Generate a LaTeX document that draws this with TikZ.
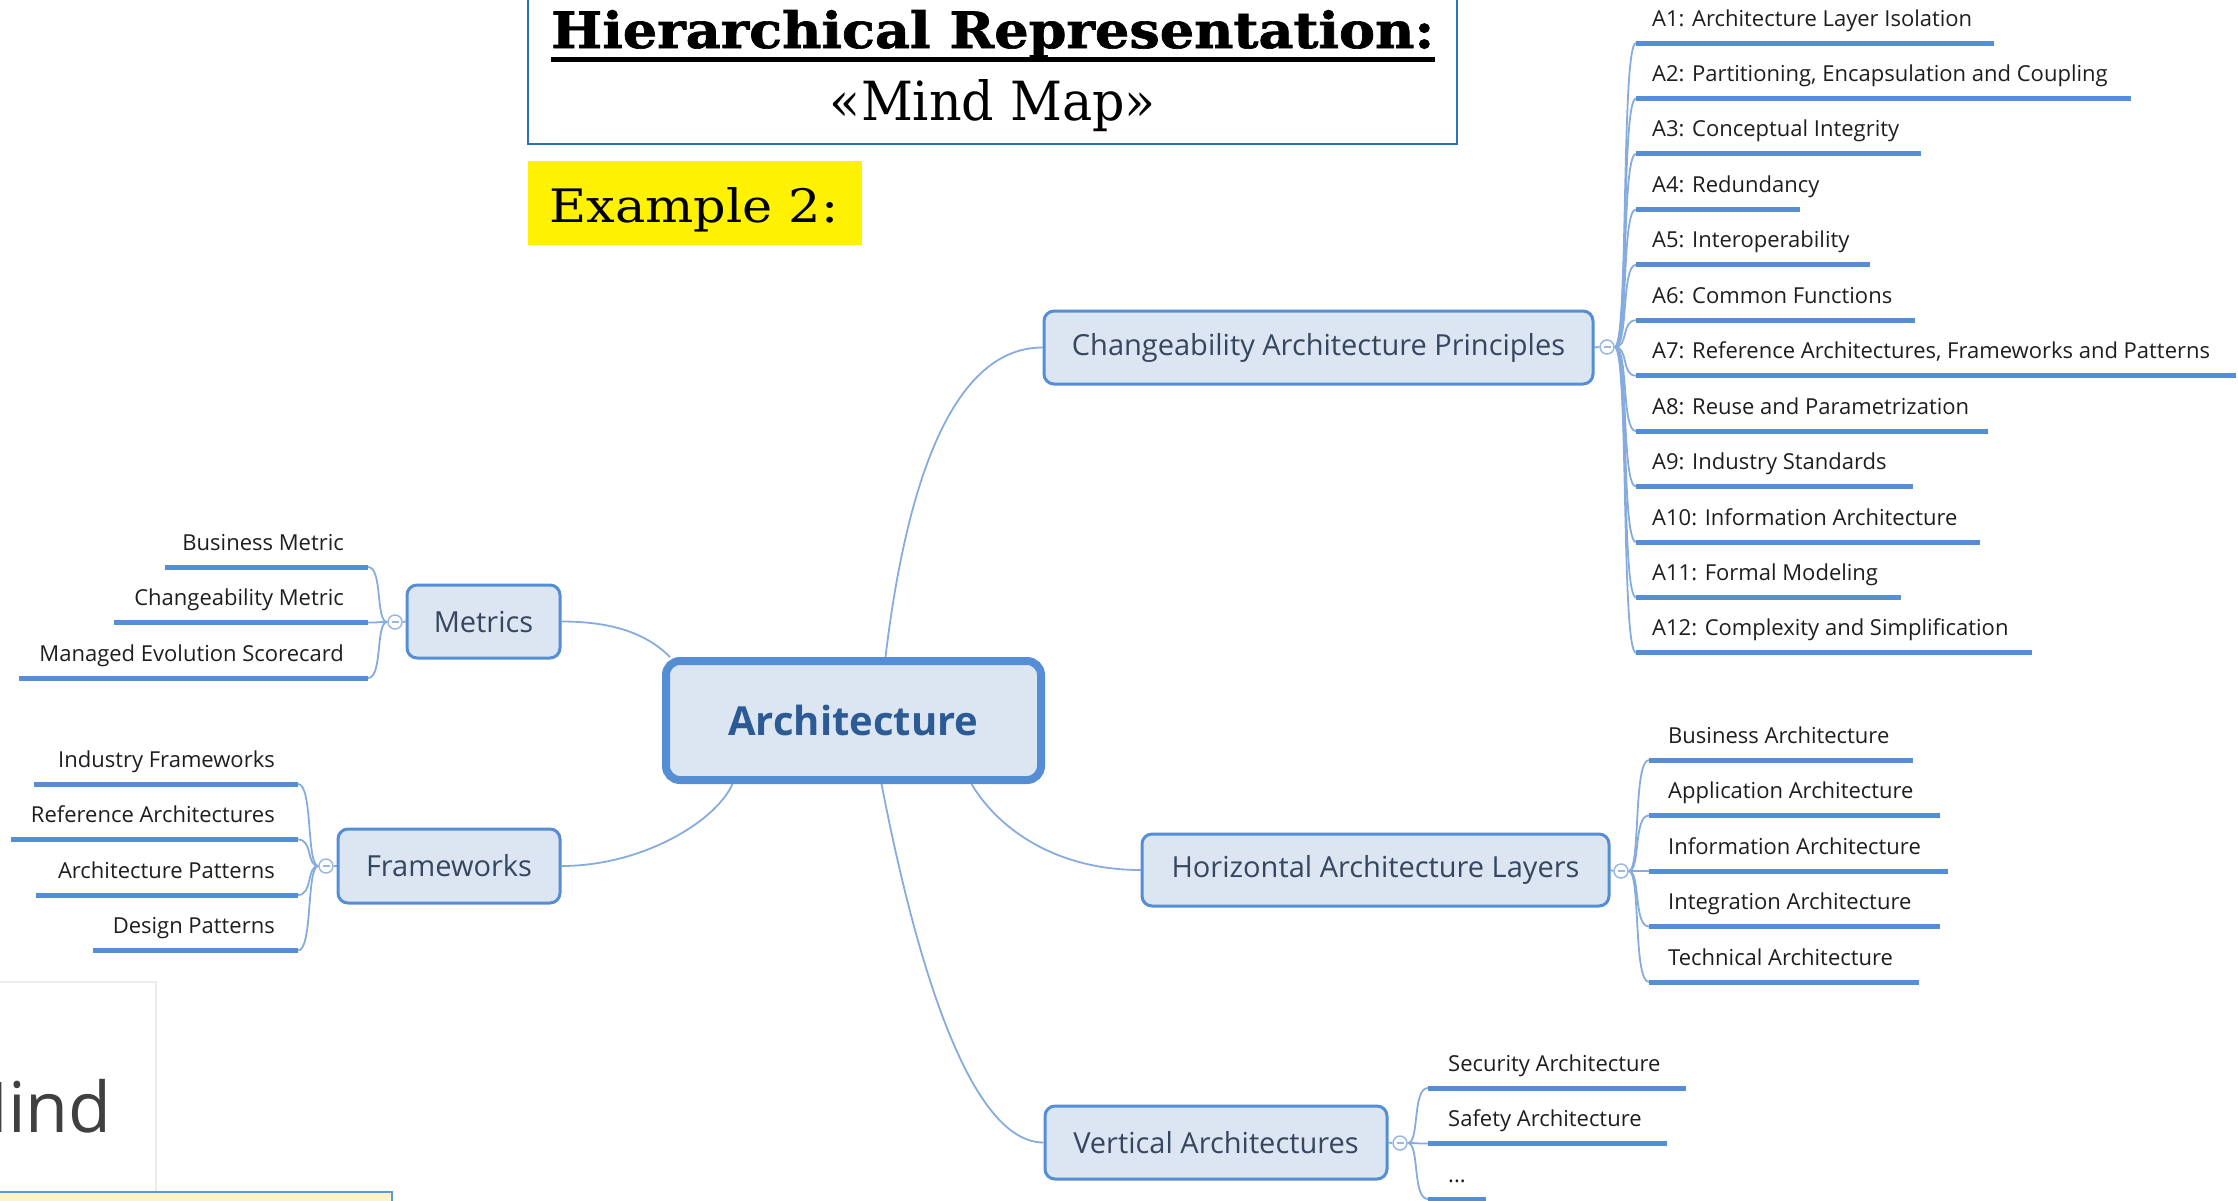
\documentclass[tikz,border=0pt]{standalone}
\usepackage{fontspec}
\setmainfont{Open Sans}
\newfontfamily\dserif[BoldFeatures={FakeBold=1.3}]{DejaVu Serif}
\usetikzlibrary{backgrounds}
\definecolor{nodefill}{HTML}{DCE6F2}
\definecolor{nodeline}{HTML}{558ED5}
\definecolor{linkc}{HTML}{86ACDF}
\definecolor{nodetext}{HTML}{35465E}
\definecolor{roottext}{HTML}{2C5A95}
\definecolor{leaftext}{HTML}{1E1E1E}
\definecolor{titleline}{HTML}{2F6FC0}
\definecolor{barfill}{HTML}{FFF2CC}
\definecolor{barline}{HTML}{5B9BD5}
\definecolor{panelline}{HTML}{ECECEC}
\definecolor{mindtext}{HTML}{404040}
\begin{document}
\begin{tikzpicture}[x=1pt,y=-1pt,
  topic/.style={draw=nodeline, line width=3pt, fill=nodefill, rounded corners=10pt,
    font=\fontsize{29}{34}\selectfont, text=nodetext, inner sep=0pt},
  root/.style={topic, line width=8pt, rounded corners=14pt,
    font=\bfseries\fontsize{40}{48}\selectfont, text=roottext},
  leaf/.style={font=\fontsize{22}{26}\selectfont, text=leaftext, inner sep=0pt},
  uline/.style={draw=nodeline, line width=5pt},
  link/.style={draw=linkc, line width=1.8pt},
  collapse/.style={circle, draw=linkc!85, line width=1.5pt, fill=white,
    minimum size=14pt, inner sep=0pt},
  minus/.style={draw=linkc!85, line width=1.3pt}]
\useasboundingbox (0,0) rectangle (2238,1200);
\clip (0,0) rectangle (2238,1200);

% ---------- title block ----------
\node[draw=titleline, line width=2pt, minimum width=929pt, minimum height=160pt,
  inner sep=0pt] (titlebox) at (992.5,64) {};
\node[anchor=base west, inner sep=0pt] (title) at (551,48)
  {\resizebox{883pt}{38pt}{\dserif\bfseries Hierarchical Representation:}};
\draw[line width=5pt] (title.base west) ++(0,11) -- ++(884,0);
\node[anchor=base, inner sep=0pt] (subtitle) at (993,120)
  {\resizebox{326pt}{41pt}{\dserif «Mind Map»}};

\node[fill=yellow, minimum width=334pt, minimum height=84pt, inner sep=0pt]
  (exbox) at (695,203) {};
\node[anchor=base west, inner sep=0pt] (example) at (549,222)
  {\resizebox{289pt}{35pt}{\dserif Example 2:}};

% ---------- partial slide panel at the lower left ----------
\node[draw=panelline, line width=1.5pt, fill=white, minimum width=164pt,
  minimum height=212pt, inner sep=0pt] (panel) at (74,1088) {};
\node[anchor=base east, inner sep=0pt, text=mindtext,
  font=\fontsize{70}{80}\selectfont] (mind) at (112,1132) {Mind};
\node[draw=barline, line width=2pt, fill=barfill, minimum width=403pt,
  minimum height=30pt, inner sep=0pt] (bar) at (190.5,1207) {};

% ---------- central topic and main topics ----------
\node[root, minimum width=375pt, minimum height=119pt] (root) at (853.5,720.5) {Architecture};
\node[topic, minimum width=549pt, minimum height=73pt] (cap) at (1318.5,347.5)
  {Changeability Architecture Principles};
\node[topic, minimum width=153pt, minimum height=73pt] (met) at (483.5,621.5) {Metrics};
\node[topic, minimum width=222pt, minimum height=74pt] (fw) at (449,866) {Frameworks};
\node[topic, minimum width=467pt, minimum height=72pt] (hor) at (1375.5,870)
  {Horizontal Architecture Layers};
\node[topic, minimum width=342pt, minimum height=73pt] (ver) at (1216,1142.5)
  {Vertical Architectures};

% collapse markers
\node[collapse] (capc) at (1607,347) {};
\node[collapse] (horc) at (1621,871) {};
\node[collapse] (verc) at (1400,1143) {};
\node[collapse] (metc) at (395,622) {};
\node[collapse] (fwc) at (326,866) {};
\foreach \c in {capc,horc,verc,metc,fwc}
  \draw[minus] ([xshift=-3.5pt]\c.center) -- ([xshift=3.5pt]\c.center);

\begin{pgfonlayer}{background}
  % main connectors
  \draw[link] ([xshift=32pt]root.north) .. controls +(19,-159) and +(-95,0) .. (cap.west);
  \draw[link] (met.east) .. controls +(50,0) and +(-24,-24) .. ([xshift=8pt]root.north west);
  \draw[link] ([xshift=-121pt]root.south) .. controls +(-17,38) and +(80,0) .. (fw.east);
  \draw[link] ([xshift=118pt]root.south) .. controls +(28,47) and +(-82,0) .. (hor.west);
  \draw[link] ([xshift=28pt]root.south) .. controls +(23,118) and +(-85,0) .. (ver.west);
  % short stubs to the collapse markers
  \draw[link] (cap.east) -- (capc.west);
  \draw[link] (hor.east) -- (horc.west);
  \draw[link] (ver.east) -- (verc.west);
  \draw[link] (met.west) -- (metc.east);
  \draw[link] (fw.west) -- (fwc.east);
\end{pgfonlayer}

% ---------- principles A1..A12 ----------
\foreach \i/\ex/\txt in {
  1/1994/{A1: Architecture Layer Isolation},
  2/2131/{A2: Partitioning, Encapsulation and Coupling},
  3/1921/{A3: Conceptual Integrity},
  4/1800/{A4: Redundancy},
  5/1870/{A5: Interoperability},
  6/1915/{A6: Common Functions},
  7/2236/{A7: Reference Architectures, Frameworks and Patterns},
  8/1988/{A8: Reuse and Parametrization},
  9/1913/{A9: Industry Standards},
  10/1980/{A10: Information Architecture},
  11/1901/{A11: Formal Modeling},
  12/2032/{A12: Complexity and Simplification}}{
  \pgfmathsetmacro\yy{43+(\i-1)*55.45}
  \coordinate (pa\i) at (1636,\yy);
  \node[leaf, anchor=base west] (ta\i) at (1652,\yy-17) {\txt};
  \draw[uline] (pa\i) -- (\ex,\yy);
  \begin{pgfonlayer}{background}
    \draw[link] (capc.east) .. controls +(14,0) and +(-15,0) .. (pa\i);
  \end{pgfonlayer}
}

% ---------- horizontal layers ----------
\foreach \i/\ex/\txt in {
  1/1913/{Business Architecture},
  2/1940/{Application Architecture},
  3/1948/{Information Architecture},
  4/1940/{Integration Architecture},
  5/1919/{Technical Architecture}}{
  \pgfmathsetmacro\yy{760+(\i-1)*55.5}
  \coordinate (ph\i) at (1649,\yy);
  \node[leaf, anchor=base west] (th\i) at (1668,\yy-17) {\txt};
  \draw[uline] (ph\i) -- (\ex,\yy);
  \begin{pgfonlayer}{background}
    \draw[link] (horc.east) .. controls +(12,0) and +(-16,0) .. (ph\i);
  \end{pgfonlayer}
}

% ---------- vertical architectures ----------
\foreach \i/\ex/\txt in {
  1/1686/{Security Architecture},
  2/1667/{Safety Architecture},
  3/1486/{...}}{
  \pgfmathsetmacro\yy{1088+(\i-1)*55.5}
  \coordinate (pv\i) at (1428,\yy);
  \node[leaf, anchor=base west] (tv\i) at (1448,\yy-17) {\txt};
  \draw[uline] (pv\i) -- (\ex,\yy);
  \begin{pgfonlayer}{background}
    \draw[link] (verc.east) .. controls +(12,0) and +(-16,0) .. (pv\i);
  \end{pgfonlayer}
}

% ---------- metrics ----------
\foreach \i/\ex/\txt in {
  1/165/{Business Metric},
  2/114/{Changeability Metric},
  3/19/{Managed Evolution Scorecard}}{
  \pgfmathsetmacro\yy{567+(\i-1)*55.5}
  \coordinate (pm\i) at (368,\yy);
  \node[leaf, anchor=base east] (tm\i) at (344,\yy-17) {\txt};
  \draw[uline] (pm\i) -- (\ex,\yy);
  \begin{pgfonlayer}{background}
    \draw[link] (metc.west) .. controls +(-12,0) and +(15,0) .. (pm\i);
  \end{pgfonlayer}
}

% ---------- frameworks ----------
\foreach \i/\ex/\txt in {
  1/34/{Industry Frameworks},
  2/11/{Reference Architectures},
  3/36/{Architecture Patterns},
  4/93/{Design Patterns}}{
  \pgfmathsetmacro\yy{784+(\i-1)*55.5}
  \coordinate (pf\i) at (298,\yy);
  \node[leaf, anchor=base east] (tf\i) at (275,\yy-17) {\txt};
  \draw[uline] (pf\i) -- (\ex,\yy);
  \begin{pgfonlayer}{background}
    \draw[link] (fwc.west) .. controls +(-12,0) and +(15,0) .. (pf\i);
  \end{pgfonlayer}
}
\end{tikzpicture}
\end{document}
